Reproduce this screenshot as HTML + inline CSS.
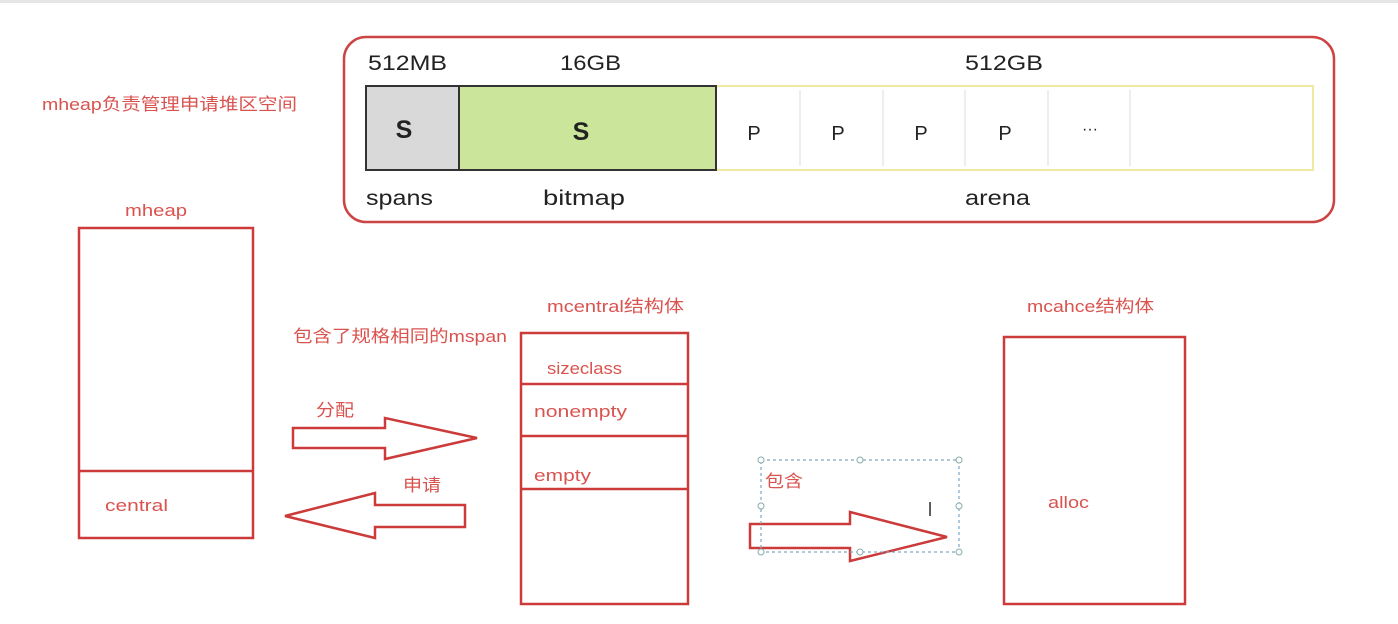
<!DOCTYPE html>
<html><head><meta charset="utf-8"><style>
html,body{margin:0;padding:0;background:#fff;width:1398px;height:624px;overflow:hidden}
svg{display:block}
.r{fill:#d9534f;font-family:"Liberation Sans","Noto Sans CJK SC",sans-serif;font-size:17px}
.k{fill:#222;font-family:"Liberation Sans",sans-serif;font-size:21px}
</style></head><body>
<svg width="1398" height="624" viewBox="0 0 1398 624" xmlns="http://www.w3.org/2000/svg">
<rect x="0" y="0" width="1398" height="3" fill="#e6e6e6"/>
<rect x="344" y="37" width="990" height="185" rx="22" fill="#fff" stroke="#cc4444" stroke-width="2.5"/>
<rect x="716" y="86" width="597" height="84" fill="#fff" stroke="#f0eaa0" stroke-width="2"/>
<g stroke="#e8e8e8" stroke-width="1.5">
<line x1="800" y1="90" x2="800" y2="166"/><line x1="883" y1="90" x2="883" y2="166"/>
<line x1="965" y1="90" x2="965" y2="166"/><line x1="1048" y1="90" x2="1048" y2="166"/>
<line x1="1130" y1="90" x2="1130" y2="166"/></g>
<rect x="366" y="86" width="93" height="84" fill="#d9d9d9" stroke="#333" stroke-width="2"/>
<rect x="459" y="86" width="257" height="84" fill="#cbe69a" stroke="#333" stroke-width="2"/>
<text class="k" x="368" y="70" textLength="79" lengthAdjust="spacingAndGlyphs">512MB</text>
<text class="k" x="560" y="70" textLength="61" lengthAdjust="spacingAndGlyphs">16GB</text>
<text class="k" x="965" y="70" textLength="78" lengthAdjust="spacingAndGlyphs">512GB</text>
<text class="k" x="404" y="138" text-anchor="middle" style="font-size:25px;font-weight:bold">S</text>
<text class="k" x="581" y="140" text-anchor="middle" style="font-size:25px;font-weight:bold">S</text>
<text class="k" x="754" y="140" text-anchor="middle" style="font-size:20px">P</text>
<text class="k" x="838" y="140" text-anchor="middle" style="font-size:20px">P</text>
<text class="k" x="921" y="140" text-anchor="middle" style="font-size:20px">P</text>
<text class="k" x="1005" y="140" text-anchor="middle" style="font-size:20px">P</text>
<text class="k" x="1090" y="134" text-anchor="middle" style="font-size:16px">···</text>
<text class="k" x="366" y="205" textLength="67" lengthAdjust="spacingAndGlyphs">spans</text>
<text class="k" x="543" y="205" textLength="82" lengthAdjust="spacingAndGlyphs">bitmap</text>
<text class="k" x="965" y="205" textLength="65" lengthAdjust="spacingAndGlyphs">arena</text>

<text class="r" x="42" y="110" textLength="255" lengthAdjust="spacingAndGlyphs">mheap负责管理申请堆区空间</text>
<text class="r" x="125" y="216" textLength="62" lengthAdjust="spacingAndGlyphs">mheap</text>
<g fill="none" stroke="#cc3a3a" stroke-width="2.5">
<rect x="79" y="228" width="174" height="310"/>
<line x1="79" y1="471" x2="253" y2="471"/>
<rect x="521" y="333" width="167" height="271"/>
<line x1="521" y1="384" x2="688" y2="384"/>
<line x1="521" y1="436" x2="688" y2="436"/>
<line x1="521" y1="489" x2="688" y2="489"/>
<rect x="1004" y="337" width="181" height="267"/>
<polygon points="293,428 385,428 385,418 477,438 385,459 385,448 293,448"/>
<polygon points="465,505 375,505 375,493 285,516 375,538 375,527 465,527"/>
<polygon points="750,524 850,524 850,512 947,537 850,561 850,548 750,548"/>
</g>
<text class="r" x="105" y="511" textLength="63" lengthAdjust="spacingAndGlyphs">central</text>
<text class="r" x="293" y="342" textLength="214" lengthAdjust="spacingAndGlyphs">包含了规格相同的mspan</text>
<text class="r" x="316" y="416" textLength="38" lengthAdjust="spacingAndGlyphs">分配</text>
<text class="r" x="403" y="491" textLength="38" lengthAdjust="spacingAndGlyphs">申请</text>
<text class="r" x="547" y="312" textLength="137" lengthAdjust="spacingAndGlyphs">mcentral结构体</text>
<text class="r" x="547" y="374" textLength="75" lengthAdjust="spacingAndGlyphs">sizeclass</text>
<text class="r" x="534" y="417" textLength="93" lengthAdjust="spacingAndGlyphs">nonempty</text>
<text class="r" x="534" y="481" textLength="57" lengthAdjust="spacingAndGlyphs">empty</text>
<text class="r" x="1027" y="312" textLength="127" lengthAdjust="spacingAndGlyphs">mcahce结构体</text>
<text class="r" x="1048" y="508" textLength="41" lengthAdjust="spacingAndGlyphs">alloc</text>
<rect x="761" y="460" width="198" height="92" fill="none" stroke="#7fa6c8" stroke-width="1.2" stroke-dasharray="3,3"/>
<g fill="#fff" stroke="#8aa" stroke-width="1">
<circle cx="761" cy="460" r="3"/><circle cx="860" cy="460" r="3"/><circle cx="959" cy="460" r="3"/>
<circle cx="761" cy="506" r="3"/><circle cx="959" cy="506" r="3"/>
<circle cx="761" cy="552" r="3"/><circle cx="860" cy="552" r="3"/><circle cx="959" cy="552" r="3"/></g>
<text class="r" x="765" y="487" textLength="38" lengthAdjust="spacingAndGlyphs">包含</text>
<text x="930" y="516" font-family="Liberation Sans" font-size="20" fill="#555" text-anchor="middle">I</text>
</svg>
</body></html>
